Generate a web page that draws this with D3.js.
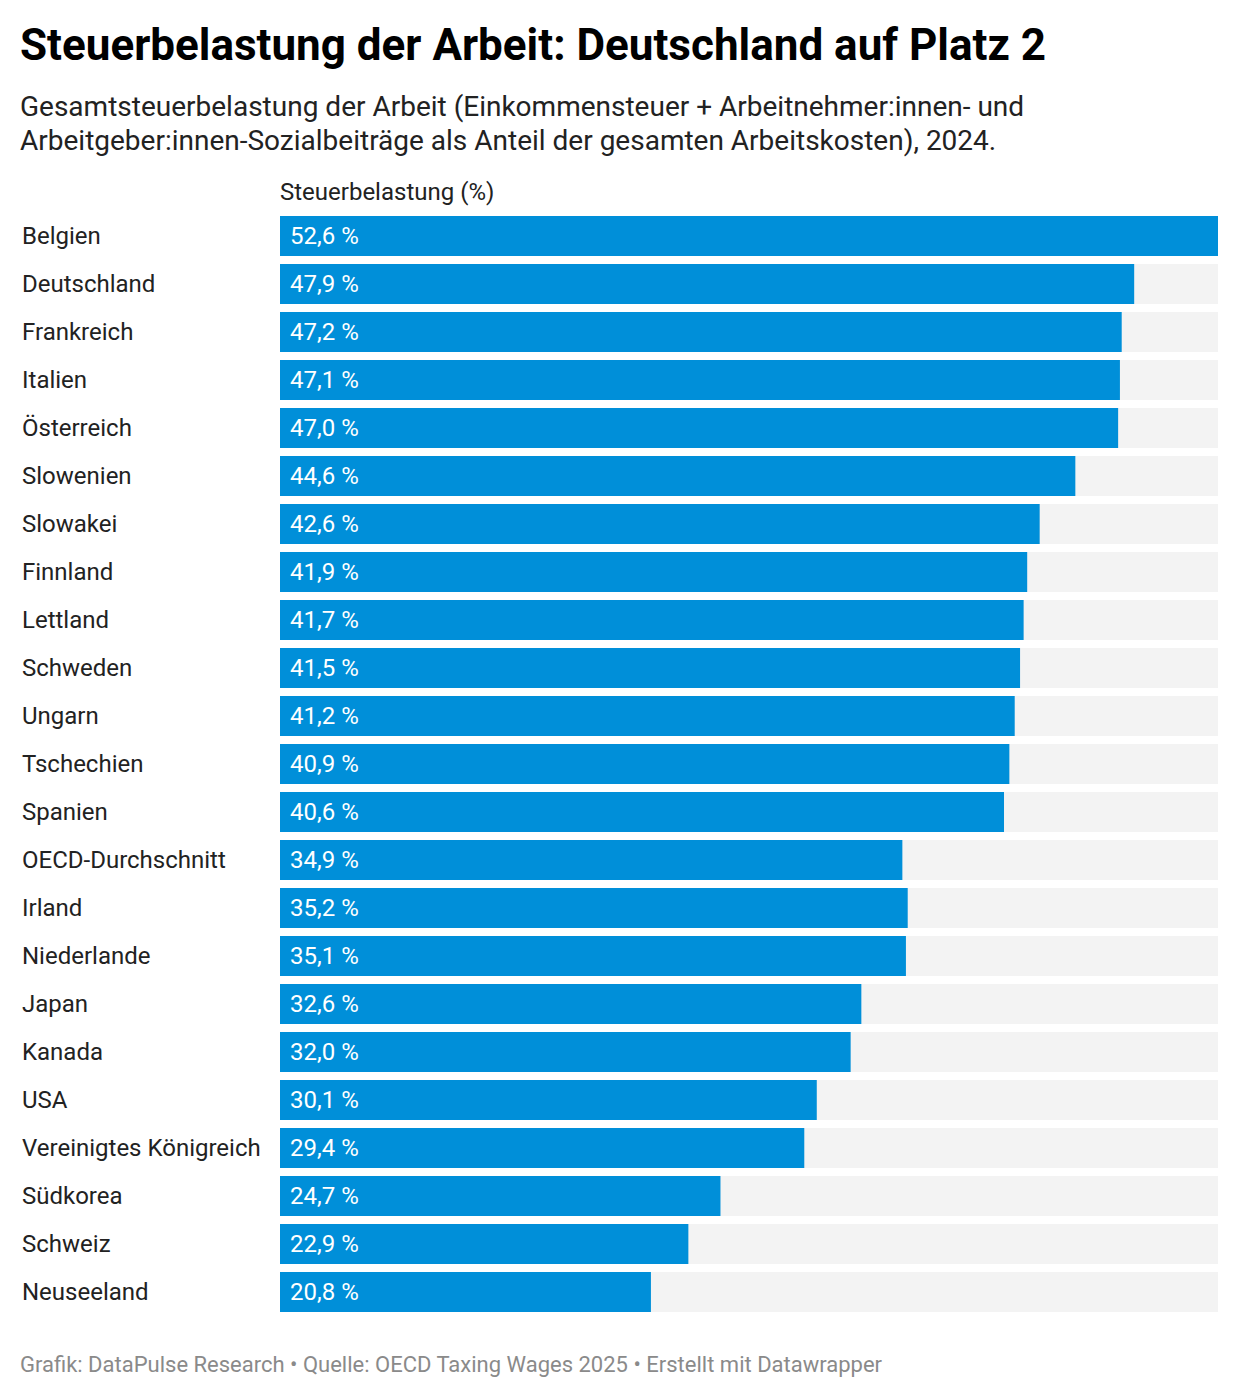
<!DOCTYPE html>
<html>
<head>
<meta charset="utf-8">
<script src="https://cdn.jsdelivr.net/npm/d3@7"></script>
<style>
  body { margin: 0; background: #fff; font-family: Roboto, sans-serif; }
</style>
</head>
<body>
<div id="chart"></div>
<script>
let w = 1240;
let h = 1398;

let countries = ["Belgien", "Deutschland", "Frankreich", "Italien", "Österreich", "Slowenien",
    "Slowakei", "Finnland", "Lettland", "Schweden", "Ungarn", "Tschechien", "Spanien",
    "OECD-Durchschnitt", "Irland", "Niederlande", "Japan", "Kanada", "USA",
    "Vereinigtes Königreich", "Südkorea", "Schweiz", "Neuseeland"];
let values = [52.6, 47.9, 47.2, 47.1, 47.0, 44.6, 42.6, 41.9, 41.7, 41.5, 41.2, 40.9, 40.6,
    34.9, 35.2, 35.1, 32.6, 32.0, 30.1, 29.4, 24.7, 22.9, 20.8];

let titleText = "Steuerbelastung der Arbeit: Deutschland auf Platz 2";
let subtitleLines = ["Gesamtsteuerbelastung der Arbeit (Einkommensteuer + Arbeitnehmer:innen- und",
    "Arbeitgeber:innen-Sozialbeiträge als Anteil der gesamten Arbeitskosten), 2024."];
let columnTitle = "Steuerbelastung (%)";
let footerText = "Grafik: DataPulse Research • Quelle: OECD Taxing Wages 2025 • Erstellt mit Datawrapper";

let svg = d3.select("#chart").append("svg")
    .attr("width", w)
    .attr("height", h)
    .style("font-family", "Roboto, sans-serif");

// header
svg.append("text")
    .attr("x", 20).attr("y", 60)
    .attr("font-size", 44).attr("font-weight", 700)
    .attr("fill", "#000")
    .text(titleText);

svg.selectAll(".sub").data(subtitleLines).enter()
    .append("text")
    .attr("class", "sub")
    .attr("x", 20)
    .attr("y", (d, i) => 116 + i * 34)
    .attr("font-size", 28)
    .attr("fill", "#222")
    .text(d => d);

let x0 = 280;
let x1 = 1218;
let xScale = d3.scaleLinear().domain([0, d3.max(values)]).range([x0, x1]);
let yScale = d3.scaleBand().domain(countries).range([212, 212 + 48 * countries.length]).paddingInner(0.1667).paddingOuter(0.0833);

svg.append("text")
    .attr("x", x0).attr("y", 200)
    .attr("font-size", 24).attr("fill", "#222")
    .text(columnTitle);

let rows = svg.append("g").selectAll("g")
    .data(countries.map((c, i) => ({name: c, value: values[i]})))
    .join("g")
    .attr("transform", d => "translate(0," + yScale(d.name) + ")");

rows.append("rect")
    .attr("x", x0)
    .attr("width", x1 - x0)
    .attr("height", yScale.bandwidth())
    .attr("fill", "#f3f3f3");

rows.append("rect")
    .attr("x", x0)
    .attr("width", d => xScale(d.value) - x0)
    .attr("height", yScale.bandwidth())
    .attr("fill", "#008fd9");

rows.append("text")
    .attr("x", 22)
    .attr("y", yScale.bandwidth() / 2)
    .attr("dy", "0.35em")
    .attr("font-size", 24)
    .attr("fill", "#222")
    .text(d => d.name);

rows.append("text")
    .attr("x", x0 + 10)
    .attr("y", yScale.bandwidth() / 2)
    .attr("dy", "0.35em")
    .attr("font-size", 24)
    .attr("fill", "#fff")
    .text(d => d.value.toFixed(1).replace(".", ",") + " %");

svg.append("text")
    .attr("x", 20).attr("y", 1372)
    .attr("font-size", 22).attr("fill", "#8a8a8a")
    .text(footerText);
</script>
</body>
</html>
